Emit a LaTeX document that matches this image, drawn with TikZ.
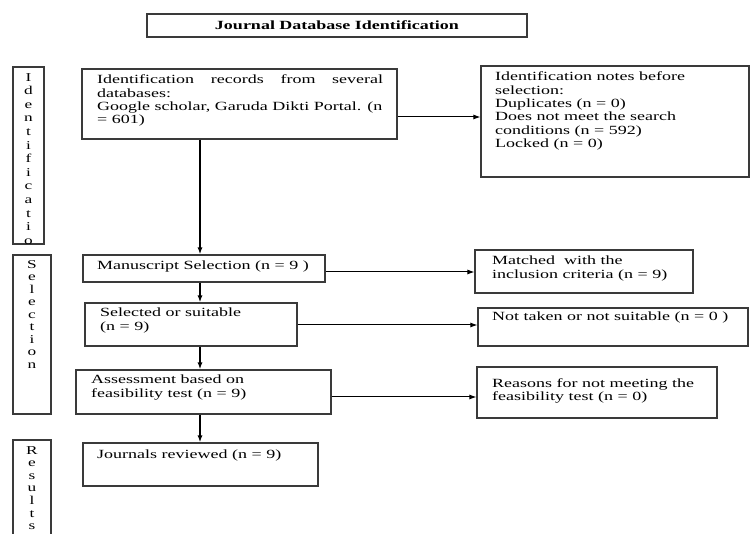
\documentclass[tikz,border=0pt]{standalone}
\usepackage{fontspec}
\setmainfont[FakeStretch=1.44]{Liberation Serif}
\usetikzlibrary{arrows.meta,fit}
\definecolor{boxgray}{HTML}{3A3A3A}
\begin{document}
\begin{tikzpicture}[x=1pt,y=-1pt,
  box/.style={draw=boxgray, line width=1.1pt, inner sep=0pt},
  txt/.style={anchor=north west, inner sep=0pt, align=left, font=\fontsize{12.5}{13.3}\selectfont},
  arr/.style={draw=black, line width=1pt, -{Latex[length=7pt,width=5pt]}},
  varr/.style={arr, line width=1.4pt},
  side/.style={anchor=north, inner sep=0pt, align=center}]
\path[use as bounding box] (0,0) rectangle (750,534);
\clip (0,0) rectangle (750,534);

% title
\node[box, fit={(147,14) (527,37)}] (title) {};
\node[inner sep=0pt, font=\fontsize{12.5}{13.3}\selectfont\bfseries] (titlet) at (title.center) {Journal Database Identification};

% side boxes
\node[box, fit={(13,67) (44,244)}] (sideI) {};
\begin{scope}
\clip (13,67) rectangle (44,244);
\node[side, font=\fontsize{12}{13.6}\selectfont] (sideIt) at (28.5,73) {I\\d\\e\\n\\t\\i\\f\\i\\c\\a\\t\\i\\o\\n};
\end{scope}
\node[box, fit={(13,255) (51,414)}] (sideS) {};
\node[side, font=\fontsize{12}{12.5}\selectfont] (sideSt) at (32,260) {S\\e\\l\\e\\c\\t\\i\\o\\n};
\coordinate (rbl) at (13,540);
\coordinate (rtl) at (13,440);
\coordinate (rtr) at (51,440);
\coordinate (rbr) at (51,540);
\draw[draw=boxgray, line width=1.1pt] (rbl) -- (rtl) -- (rtr) -- (rbr);
\node[side, font=\fontsize{12}{12.6}\selectfont] (sideRt) at (32,446) {R\\e\\s\\u\\l\\t\\s};

% main boxes
\node[box, fit={(82,69) (397,139)}] (id) {};
\node[txt] (idt) at (97,75) {\makebox[286pt][s]{Identification records from several}\\databases:\\Google scholar, Garuda Dikti Portal. (n\\= 601)};

\node[box, fit={(481,66) (749,177)}] (notes) {};
\node[txt] (notest) at (495,72) {Identification notes before\\selection:\\Duplicates (n = 0)\\Does not meet the search\\conditions (n = 592)\\Locked (n = 0)};

\node[box, fit={(83,255) (325,282)}] (ms) {};
\node[txt] (mst) at (97,261) {Manuscript Selection (n = 9 )};

\node[box, fit={(475,250) (693,293)}] (mt) {};
\node[txt] (mtt) at (492,256) {Matched\ \ with the\\inclusion criteria (n = 9)};

\node[box, fit={(85,303) (297,346)}] (sel) {};
\node[txt] (selt) at (100,308) {Selected or suitable\\(n = 9)};

\node[box, fit={(478,308) (748,346)}] (nt) {};
\node[txt] (ntt) at (492,312) {Not taken or not suitable (n = 0 )};

\node[box, fit={(76,370) (331,414)}] (as) {};
\node[txt] (ast) at (91,375) {Assessment based on\\feasibility test (n = 9)};

\node[box, fit={(477,367) (717,418)}] (rs) {};
\node[txt] (rst) at (492,378) {Reasons for not meeting the\\feasibility test (n = 0)};

\node[box, fit={(83,443) (318,486)}] (jr) {};
\node[txt] (jrt) at (97,450) {Journals reviewed (n = 9)};

% connectors
\coordinate (vx) at (200,0);
\coordinate (h1) at (0,117);
\coordinate (h2) at (0,272);
\coordinate (h3) at (0,325);
\coordinate (h4) at (0,397);
\draw[arr] (id.east |- h1) -- (notes.west |- h1);
\draw[varr] (id.south -| vx) -- (ms.north -| vx);
\draw[arr] (ms.east |- h2) -- (mt.west |- h2);
\draw[varr] (ms.south -| vx) -- (sel.north -| vx);
\draw[arr] (sel.east |- h3) -- (nt.west |- h3);
\draw[varr] (sel.south -| vx) -- (as.north -| vx);
\draw[arr] (as.east |- h4) -- (rs.west |- h4);
\draw[varr] (as.south -| vx) -- (jr.north -| vx);
\end{tikzpicture}
\end{document}
